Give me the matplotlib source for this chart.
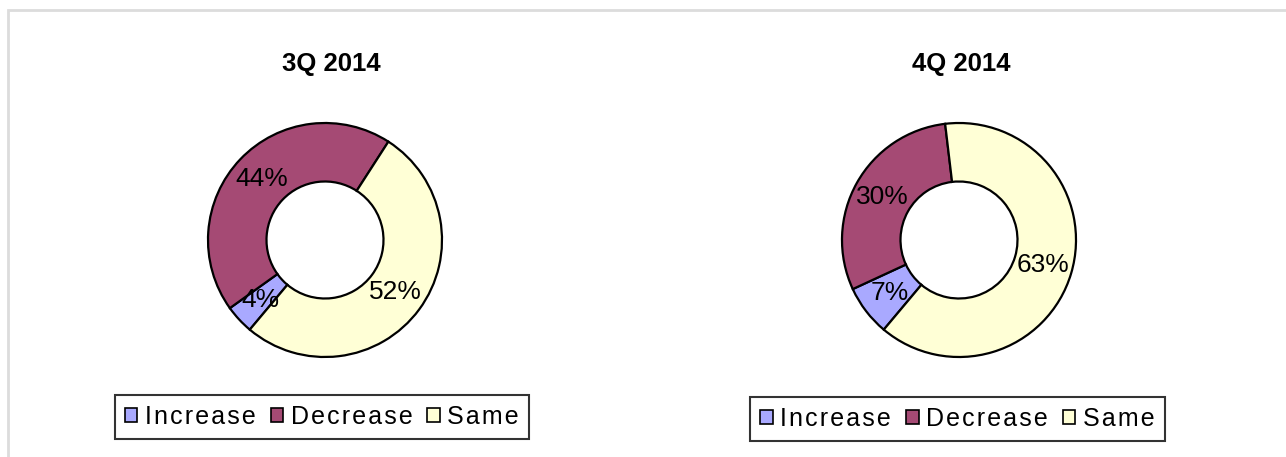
import matplotlib
matplotlib.use('Agg')
import matplotlib.pyplot as plt
from matplotlib.patches import Rectangle

plt.rcParams['font.family'] = ['Liberation Sans', 'DejaVu Sans']

W, H = 1286, 457

categories = ['Increase', 'Decrease', 'Same']
colors = ['#a9a9ff', '#a54a74', '#ffffd6']

titles = ['3Q 2014', '4Q 2014']
q3_values = [4, 44, 52]
q4_values = [7, 30, 63]
all_values = [q3_values, q4_values]

# pixel layout: donut centres, radius, legend boxes
centers = [(325, 240), (959, 240)]
radius = 117
title_x = [331, 961]
legend_boxes = [(117, 394, 527, 440), (753, 395, 1162, 442)]


def spaced(s):
    # legend text in the original is drawn letter-spaced
    return '\u200a'.join(s)


fig = plt.figure(figsize=(W / 100, H / 100), dpi=100)
fig.patch.set_facecolor('white')

# light frame at top and left (image is cropped on other sides)
fig.add_artist(Rectangle((8 / W, -0.05), 1.2, (H - 10) / H + 0.05,
                         transform=fig.transFigure, fill=False,
                         edgecolor='#dcdcdc', linewidth=2))

lim = 1.04
for i, vals in enumerate(all_values):
    cx, cy = centers[i]
    half = radius * lim
    ax = fig.add_axes([(cx - half) / W, (H - cy - half) / H,
                       2 * half / W, 2 * half / H])
    wedges, texts, autotexts = ax.pie(
        vals, colors=colors, startangle=230, counterclock=False,
        radius=1.0, autopct=lambda p: f'{p:.0f}%', pctdistance=0.75,
        wedgeprops=dict(width=0.5, edgecolor='black', linewidth=1.6),
        textprops=dict(fontsize=19, color='black'))
    ax.set_xlim(-lim, lim)
    ax.set_ylim(-lim, lim)
    ax.set_aspect('equal')
    ax.axis('off')

    fig.text(title_x[i] / W, (H - 64) / H, titles[i], ha='center',
             va='center', fontsize=18.5, fontweight='bold')

    x0, y0, x1, y1 = legend_boxes[i]
    leg = fig.legend(wedges, [spaced(c) for c in categories], loc='center',
                     bbox_to_anchor=((x0 + x1) / 2 / W, (H - (y0 + y1) / 2) / H),
                     bbox_transform=fig.transFigure, ncol=3, fontsize=18,
                     frameon=True, fancybox=False, edgecolor='black',
                     handlelength=0.5, handleheight=0.5, handletextpad=0.3,
                     columnspacing=0.6, borderpad=0.4, borderaxespad=0)
    leg.get_frame().set_linewidth(1.5)
    for h in leg.legend_handles:
        h.set_linewidth(1.2)

fig.savefig('out.png', dpi=100, facecolor='white')
